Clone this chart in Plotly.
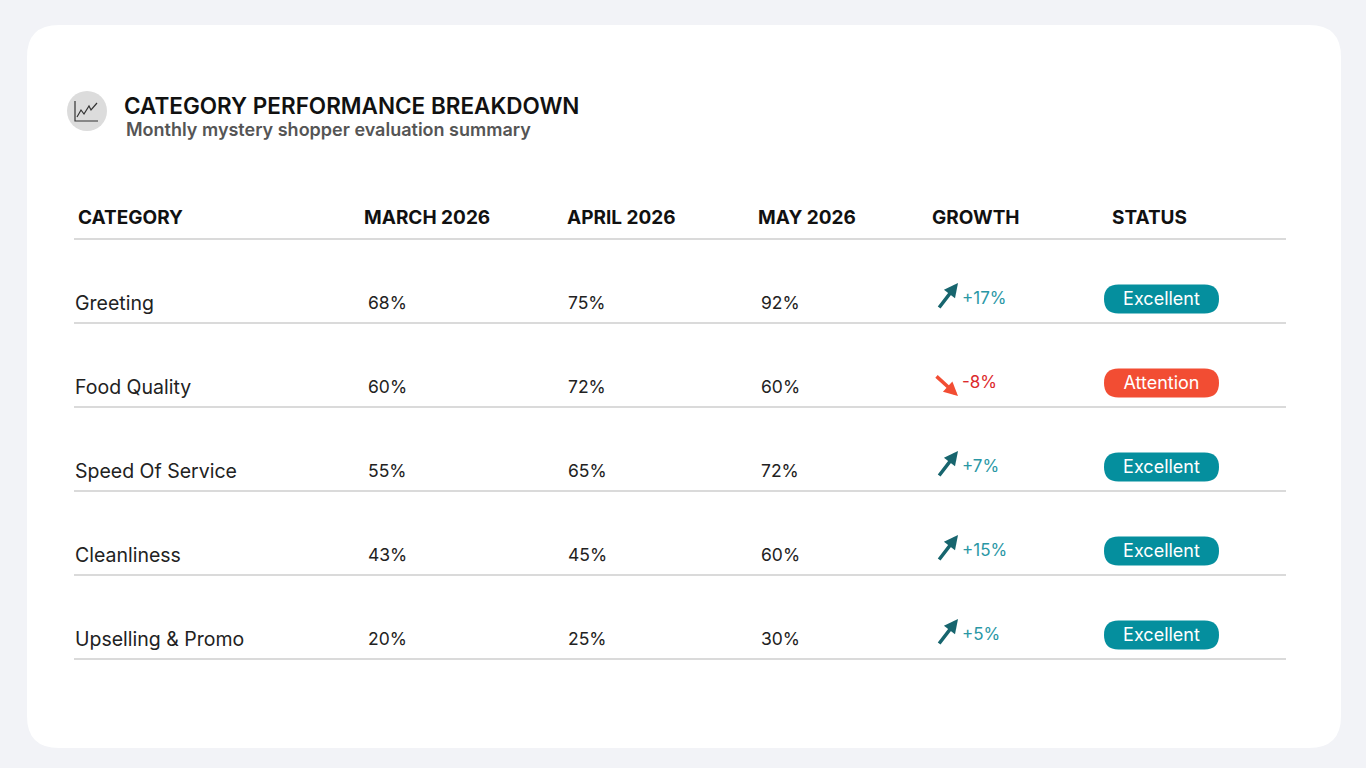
import plotly.graph_objects as go

# ---------------- data ----------------
categories = ["Greeting", "Food Quality", "Speed Of Service", "Cleanliness", "Upselling & Promo"]
march = [68, 60, 55, 43, 20]
april = [75, 72, 65, 45, 25]
may = [92, 60, 72, 60, 30]
growth = [17, -8, 7, 15, 5]
status = ["Excellent", "Attention", "Excellent", "Excellent", "Excellent"]
headers = ["CATEGORY", "MARCH 2026", "APRIL 2026", "MAY 2026", "GROWTH", "STATUS"]
title = "CATEGORY PERFORMANCE BREAKDOWN"
subtitle = "Monthly mystery shopper evaluation summary"

# ---------------- layout constants ----------------
W, H = 1366, 768
FONT = "Inter"
BG = "#f2f3f7"
TEAL = "#058f9e"
TEAL_DARK = "#17656e"
TEAL_TEXT = "#2a97a5"
RED = "#f24d33"
RED_TEXT = "#dc2a2c"
LINE = "#dadada"

HEADER_Y = 219
HEADER_LINE = 239
ROW0 = 323
ROW_H = 84
LINE_X0, LINE_X1 = 74, 1286
HEADER_X = [78, 364, 567, 758, 932, 1112]
VAL_X = [75, 368, 568, 761]
ARROW_X = 948
GROWTH_X = 962
BADGE_X0, BADGE_X1 = 1104, 1219
BADGE_H = 29

n = len(categories)
line_y = [ROW0 + ROW_H * i for i in range(n)]
text_y = [y - 18 for y in line_y]

fig = go.Figure()


def rrect(x0, y0, x1, y1, r):
    return (f"M{x0+r},{y0} L{x1-r},{y0} Q{x1},{y0} {x1},{y0+r} L{x1},{y1-r} Q{x1},{y1} {x1-r},{y1} "
            f"L{x0+r},{y1} Q{x0},{y1} {x0},{y1-r} L{x0},{y0+r} Q{x0},{y0} {x0+r},{y0} Z")


# card
shapes = [dict(type="path", path=rrect(27, 25, 1341, 748, 32), xref="x", yref="y",
               fillcolor="white", line=dict(width=0), layer="below")]

# icon
shapes.append(dict(type="circle", xref="x", yref="y", x0=67, y0=91, x1=107, y1=131,
                   fillcolor="#dcdcdc", line=dict(width=0), layer="below"))
shapes.append(dict(type="path", xref="x", yref="y", layer="below",
                   path="M75,101 L75,121 L98,121", line=dict(color="#333", width=1.2)))
shapes.append(dict(type="path", xref="x", yref="y", layer="below",
                   path="M77,117 L81,110 L84,114 L89,106 L91,110 L97,103", line=dict(color="#333", width=1.2)))

# lines
shapes.append(dict(type="line", xref="x", yref="y", x0=LINE_X0, x1=LINE_X1, y0=HEADER_LINE, y1=HEADER_LINE,
                   line=dict(color=LINE, width=2), layer="below"))
for y in line_y:
    shapes.append(dict(type="line", xref="x", yref="y", x0=LINE_X0, x1=LINE_X1, y0=y, y1=y,
                       line=dict(color=LINE, width=2), layer="below"))

# badges
for i, s in enumerate(status):
    cy = line_y[i] - 24
    col = TEAL if s == "Excellent" else RED
    shapes.append(dict(type="path", xref="x", yref="y", layer="below",
                       path=rrect(BADGE_X0, cy - BADGE_H / 2, BADGE_X1, cy + BADGE_H / 2, BADGE_H / 2),
                       fillcolor=col, line=dict(width=0)))

# header text
fig.add_trace(go.Scatter(x=HEADER_X, y=[HEADER_Y] * len(headers), text=headers, mode="text",
                         textposition="middle right",
                         textfont=dict(family=FONT, size=19, color="#111", weight=700),
                         hoverinfo="skip"))

# category
fig.add_trace(go.Scatter(x=[VAL_X[0]] * n, y=text_y, text=categories, mode="text",
                         textposition="middle right",
                         textfont=dict(family=FONT, size=19.5, color="#222"), hoverinfo="skip"))
for col, vals in zip(VAL_X[1:], [march, april, may]):
    fig.add_trace(go.Scatter(x=[col] * n, y=text_y, text=[f"{v}%" for v in vals], mode="text",
                             textposition="middle right",
                             textfont=dict(family=FONT, size=17.5, color="#222"), hoverinfo="skip"))

# growth text
fig.add_trace(go.Scatter(x=[GROWTH_X] * n, y=[y - 23 for y in line_y],
                         text=[f"+{g}%" if g > 0 else f"{g}%" for g in growth], mode="text",
                         textposition="middle right",
                         textfont=dict(family=FONT, size=17,
                                       color=[TEAL_TEXT if g > 0 else RED_TEXT for g in growth]),
                         hoverinfo="skip"))

# badge text
fig.add_trace(go.Scatter(x=[(BADGE_X0 + BADGE_X1) / 2] * n, y=[y - 23 for y in line_y], text=status,
                         mode="text", textposition="middle center",
                         textfont=dict(family=FONT, size=18, color="white"), hoverinfo="skip"))

annotations = []
# arrows
for i, g in enumerate(growth):
    ly = line_y[i]
    if g > 0:
        tail = (ARROW_X - 10, ly - 14)
        head = (ARROW_X + 10, ly - 40)
        col = TEAL_DARK
    else:
        tail = (ARROW_X - 13, ly - 32)
        head = (ARROW_X + 10, ly - 11)
        col = RED
    annotations.append(dict(x=head[0], y=head[1], ax=tail[0], ay=tail[1], xref="x", yref="y",
                            axref="x", ayref="y", showarrow=True, arrowhead=2, arrowsize=0.8,
                            arrowwidth=3.5, arrowcolor=col, text=""))

annotations.append(dict(x=122, y=105, xref="x", yref="y", text=title, showarrow=False, xanchor="left",
                        yanchor="middle", font=dict(family=FONT, size=22.5, color="#111", weight=600)))
annotations.append(dict(x=124, y=129, xref="x", yref="y", text=subtitle, showarrow=False, xanchor="left",
                        yanchor="middle", font=dict(family=FONT, size=18, color="#555", weight=600)))

fig.update_layout(
    width=W, height=H, margin=dict(l=0, r=0, t=0, b=0),
    paper_bgcolor=BG, plot_bgcolor=BG, showlegend=False,
    xaxis=dict(range=[0, W], visible=False, fixedrange=True),
    yaxis=dict(range=[H, 0], visible=False, fixedrange=True),
    shapes=shapes, annotations=annotations,
)

fig.write_html("out.html", config={"displayModeBar": False},
               post_script="document.body.style.margin='0';document.body.style.overflow='hidden';")
